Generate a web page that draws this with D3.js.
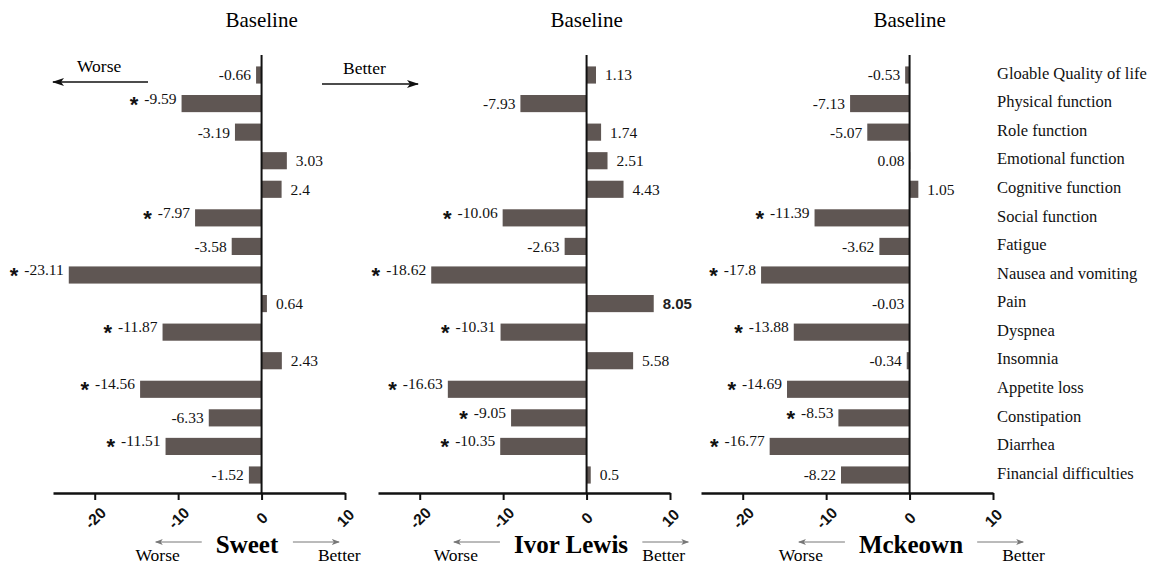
<!DOCTYPE html>
<html>
<head>
<meta charset="utf-8">
<script src="https://cdn.jsdelivr.net/npm/d3@7"></script>
<style>
  body { margin: 0; background: #fff; }
  svg { display: block; }
</style>
</head>
<body>
<div id="chart"></div>
<script>
// Change from baseline, three approaches, EORTC QLQ-C30 items

var categories = [
    "Gloable Quality of life", "Physical function", "Role function",
    "Emotional function", "Cognitive function", "Social function",
    "Fatigue", "Nausea and vomiting", "Pain", "Dyspnea", "Insomnia",
    "Appetite loss", "Constipation", "Diarrhea", "Financial difficulties"
];

var sweetValues = [-0.66, -9.59, -3.19, 3.03, 2.4, -7.97, -3.58, -23.11, 0.64, -11.87, 2.43, -14.56, -6.33, -11.51, -1.52];
var ivorLewisValues = [1.13, -7.93, 1.74, 2.51, 4.43, -10.06, -2.63, -18.62, 8.05, -10.31, 5.58, -16.63, -9.05, -10.35, 0.5];
var mckeownValues = [-0.53, -7.13, -5.07, 0.08, 1.05, -11.39, -3.62, -17.8, -0.03, -13.88, -0.34, -14.69, -8.53, -16.77, -8.22];

// significance stars (1 = *)
var sweetSig = [0, 1, 0, 0, 0, 1, 0, 1, 0, 1, 0, 1, 0, 1, 0];
var ivorLewisSig = [0, 0, 0, 0, 0, 1, 0, 1, 0, 1, 0, 1, 1, 1, 0];
var mckeownSig = [0, 0, 0, 0, 0, 1, 0, 1, 0, 1, 0, 1, 1, 1, 0];

var panelNames = ["Sweet", "Ivor Lewis", "Mckeown"];
var tickValues = [-20, -10, 0, 10];
var xDomain = [-25, 10];

var svgWidth = 1151;
var svgHeight = 564;
var serif = "'Liberation Serif', 'Times New Roman', serif";
var sans = "'Liberation Sans', Arial, sans-serif";
var barColor = "#5f5653";

var svg = d3.select("#chart")
    .append("svg")
    .attr("width", svgWidth)
    .attr("height", svgHeight);

svg.append("rect").attr("width", svgWidth).attr("height", svgHeight).attr("fill", "#fff");

// arrow heads
var defs = svg.append("defs");
defs.append("marker")
    .attr("id", "bigHead")
    .attr("markerUnits", "userSpaceOnUse")
    .attr("markerWidth", 12).attr("markerHeight", 8)
    .attr("refX", 11).attr("refY", 4)
    .attr("orient", "auto")
    .append("path").attr("d", "M0,0 L12,4 L0,8 L3,4 Z").attr("fill", "#111");
defs.append("marker")
    .attr("id", "smallHead")
    .attr("markerUnits", "userSpaceOnUse")
    .attr("markerWidth", 8).attr("markerHeight", 6)
    .attr("refX", 7).attr("refY", 3)
    .attr("orient", "auto")
    .append("path").attr("d", "M0,0 L8,3 L0,6 L2,3 Z").attr("fill", "#777");

var y = d3.scaleBand()
    .domain(categories)
    .range([55, 495])
    .padding(0.4);

var axisY = 493;
var panelWidth = 292;

// layout of each panel: left edge, bottom title centre, shift of the "Better" word
var panels = [
    { name: panelNames[0], values: sweetValues, sig: sweetSig, left: 53, titleX: 247, betterDx: 25 },
    { name: panelNames[1], values: ivorLewisValues, sig: ivorLewisSig, left: 378, titleX: 571, betterDx: 0 },
    { name: panelNames[2], values: mckeownValues, sig: mckeownSig, left: 701, titleX: 911, betterDx: 25 }
];

panels.forEach(function(p, pi) {
    var x = d3.scaleLinear().domain(xDomain).range([p.left, p.left + panelWidth]);
    var g = svg.append("g");
    var data = categories.map(function(c, i) {
        return { cat: c, value: p.values[i], sig: p.sig[i] };
    });

    // top heading
    g.append("text")
        .attr("x", x(0)).attr("y", 27)
        .attr("text-anchor", "middle")
        .style("font-family", serif).style("font-size", "21px")
        .text("Baseline");

    // bars
    g.selectAll("rect.bar")
        .data(data)
        .enter()
        .append("rect")
        .attr("class", "bar")
        .attr("x", d => x(Math.min(0, d.value)))
        .attr("y", d => y(d.cat))
        .attr("width", d => Math.abs(x(d.value) - x(0)))
        .attr("height", y.bandwidth())
        .attr("fill", barColor);

    // value labels
    var labels = g.selectAll("text.val")
        .data(data)
        .enter()
        .append("text")
        .attr("class", "val")
        .attr("y", d => y(d.cat) + y.bandwidth() / 2)
        .attr("dy", "0.35em")
        .style("font-family", serif)
        .style("font-size", "15.5px")
        .style("fill", "#111")
        .each(function(d) {
            var t = d3.select(this);
            var right = d.value > 0.1;
            if (right) {
                t.attr("x", x(d.value) + 9).attr("text-anchor", "start");
            } else {
                t.attr("x", x(Math.min(0, d.value)) - 5).attr("text-anchor", "end");
            }
            if (d.sig) {
                t.append("tspan")
                    .attr("dy", "8")
                    .style("font-family", sans)
                    .style("font-weight", "bold")
                    .style("font-size", "22px")
                    .text("*");
                t.append("tspan").attr("dx", 6).attr("dy", "-8").text(d.value);
            } else {
                t.text(d.value);
            }
        });

    // the 8.05 label is set in a sans face in the original
    labels.filter(d => pi === 1 && d.value === 8.05)
        .style("font-family", sans)
        .style("font-size", "15px")
        .style("font-weight", "bold")
        .style("fill", "#222");

    // zero line
    g.append("line")
        .attr("x1", x(0)).attr("x2", x(0))
        .attr("y1", 55).attr("y2", axisY)
        .attr("stroke", "#111").attr("stroke-width", 2);

    // x axis
    var bottomAxis = d3.axisBottom(x)
        .tickValues(tickValues)
        .tickSize(7)
        .tickSizeOuter(0)
        .tickFormat(d => String(d));

    var xAxis = g.append("g")
        .attr("transform", `translate(0, ${axisY})`)
        .call(bottomAxis);
    xAxis.select(".domain").attr("stroke", "#111").attr("stroke-width", 2.5);
    xAxis.selectAll(".tick line").attr("stroke", "#111").attr("stroke-width", 2);
    xAxis.selectAll(".tick text")
        .attr("y", 0).attr("dy", "0.35em")
        .attr("text-anchor", "middle")
        .attr("transform", "translate(0, 25) rotate(-45)")
        .style("font-family", sans)
        .style("font-weight", "bold")
        .style("font-size", "15.5px")
        .style("fill", "#111");

    // bottom title with worse / better arrows
    var title = g.append("text")
        .attr("x", p.titleX).attr("y", 553)
        .attr("text-anchor", "middle")
        .style("font-family", serif)
        .style("font-weight", "bold")
        .style("font-size", "25px")
        .text(p.name);
    var bb = title.node().getBBox();
    var tl = bb.x, tr = bb.x + bb.width;

    g.append("line")
        .attr("x1", tl - 14).attr("x2", tl - 60)
        .attr("y1", 542).attr("y2", 542)
        .attr("stroke", "#777").attr("stroke-width", 1)
        .attr("marker-end", "url(#smallHead)");
    g.append("text")
        .attr("x", tl - 36).attr("y", 561)
        .attr("text-anchor", "end")
        .style("font-family", serif).style("font-size", "17.5px")
        .text("Worse");

    g.append("line")
        .attr("x1", tr + 14).attr("x2", tr + 60)
        .attr("y1", 542).attr("y2", 542)
        .attr("stroke", "#777").attr("stroke-width", 1)
        .attr("marker-end", "url(#smallHead)");
    g.append("text")
        .attr("x", tr + 14 + p.betterDx).attr("y", 561)
        .attr("text-anchor", "start")
        .style("font-family", serif).style("font-size", "17.5px")
        .text("Better");
});

// top-left direction hints
svg.append("text")
    .attr("x", 77).attr("y", 72)
    .style("font-family", serif).style("font-size", "17.5px")
    .text("Worse");
svg.append("line")
    .attr("x1", 148).attr("x2", 53)
    .attr("y1", 82).attr("y2", 82)
    .attr("stroke", "#111").attr("stroke-width", 1.5)
    .attr("marker-end", "url(#bigHead)");
svg.append("text")
    .attr("x", 343).attr("y", 74)
    .style("font-family", serif).style("font-size", "17.5px")
    .text("Better");
svg.append("line")
    .attr("x1", 322).attr("x2", 418)
    .attr("y1", 84).attr("y2", 84)
    .attr("stroke", "#111").attr("stroke-width", 1.5)
    .attr("marker-end", "url(#bigHead)");

// category names on the right
svg.append("g")
    .selectAll("text")
    .data(categories)
    .enter()
    .append("text")
    .attr("x", 997)
    .attr("y", d => y(d) + y.bandwidth() / 2 - 2)
    .attr("dy", "0.35em")
    .style("font-family", serif)
    .style("font-size", "16.5px")
    .style("fill", "#111")
    .text(d => d);
</script>
</body>
</html>
